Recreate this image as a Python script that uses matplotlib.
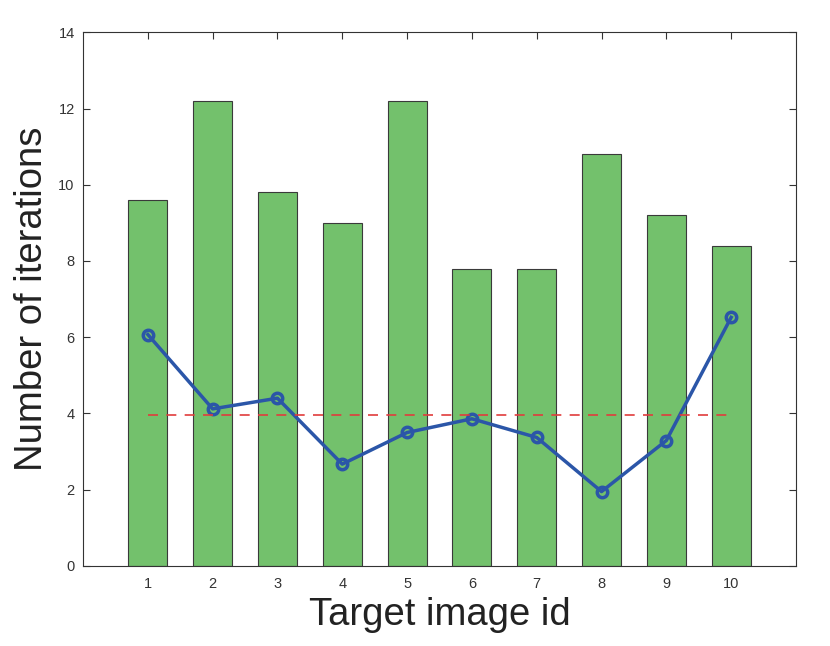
import matplotlib
matplotlib.use("Agg")
import matplotlib.pyplot as plt
import numpy as np

plt.rcParams['font.family'] = ['Liberation Sans', 'DejaVu Sans']

ids = [1, 2, 3, 4, 5, 6, 7, 8, 9, 10]
bar_values = [9.6, 12.2, 9.8, 9.0, 12.2, 7.8, 7.8, 10.8, 9.2, 8.4]
line_values = [6.07, 4.12, 4.4, 2.67, 3.5, 3.86, 3.37, 1.95, 3.29, 6.52]
mean_level = 3.97

fig = plt.figure(figsize=(8.3, 6.46), dpi=100)
ax = fig.add_axes([0.1, 0.124, 0.859, 0.826])

ax.bar(ids, bar_values, width=0.6, color='#73c16c', edgecolor='#3a3a3a', linewidth=0.8, zorder=2)
ax.plot(ids, line_values, color='#2b56a8', linewidth=2.5, marker='o', markersize=7.5,
        markerfacecolor='none', markeredgewidth=2.5, zorder=3)
ax.plot([ids[0], ids[-1]], [mean_level, mean_level], color='#e03c3c', linestyle='--',
        linewidth=1.2, dashes=(6, 5), zorder=4)

ax.set_xlim(0, 11)
ax.set_ylim(0, 14)
ax.set_xticks(ids)
ax.set_yticks(np.arange(0, 15, 2))
ax.tick_params(direction='in', top=True, right=True, labelsize=10.5, length=5, width=0.8,
               colors='#333333')
ax.tick_params(axis='x', pad=8)
ax.tick_params(axis='y', pad=6)
for s in ax.spines.values():
    s.set_color('#333333')
    s.set_linewidth(0.8)

ax.set_xlabel('Target image id', fontsize=27.5, color='#222222', labelpad=4)
ax.set_ylabel('Number of iterations', fontsize=27.5, color='#222222', labelpad=6)

fig.savefig('out.png', dpi=100)
